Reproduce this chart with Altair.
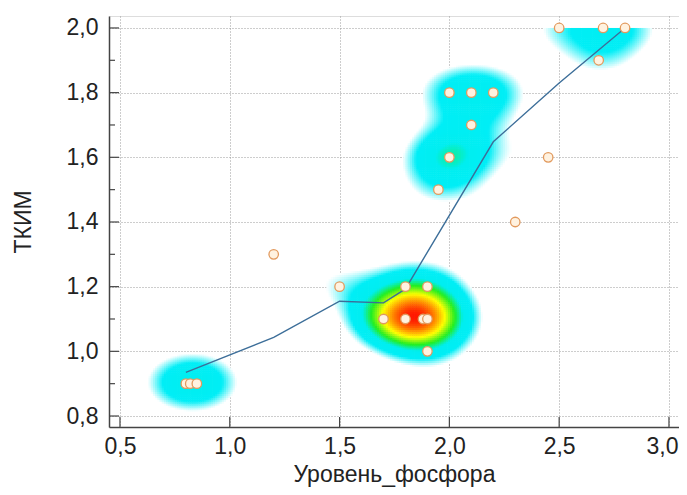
import numpy as np
import pandas as pd
import altair as alt

# scatter points (x = Уровень_фосфора, y = ТКИМ, n = how many observations coincide)
pt_x = [0.80, 0.82, 0.85, 1.20, 1.50, 1.70, 1.80, 1.88, 1.90, 1.80, 1.90, 1.90,
        1.95, 2.00, 2.10, 2.00, 2.10, 2.20, 2.30, 2.45, 2.50, 2.70, 2.80, 2.68]
pt_y = [0.90, 0.90, 0.90, 1.30, 1.20, 1.10, 1.10, 1.10, 1.10, 1.20, 1.20, 1.00,
        1.50, 1.60, 1.70, 1.80, 1.80, 1.80, 1.40, 1.60, 2.00, 2.00, 2.00, 1.90]
pt_n = [1, 1, 1, 1, 1, 1, 4, 3, 1, 1, 1, 1,
        1, 3, 1, 1, 1, 1, 1, 1, 1, 1, 1, 1]

# smoothed trend line vertices
line_x = [0.80, 1.20, 1.50, 1.70, 1.80, 2.20, 2.50, 2.80]
line_y = [0.935, 1.043, 1.155, 1.150, 1.193, 1.648, 1.830, 2.000]

x_ticks = [0.5, 1.0, 1.5, 2.0, 2.5, 3.0]
y_ticks = [0.8, 1.0, 1.2, 1.4, 1.6, 1.8, 2.0]
y_minor = [0.9, 1.1, 1.3, 1.5, 1.7, 1.9]

X_DOMAIN = [0.45, 3.0457]
Y_DOMAIN = [0.766, 2.037]
W, H = 570, 411

# 2D kernel density of the points (drawn as a heat map)
sx, sy = 0.14, 0.062
step_x, step_y = 0.01, 0.006
gx = np.arange(X_DOMAIN[0], X_DOMAIN[1], step_x)
gy = np.arange(Y_DOMAIN[0], max(pt_y), step_y)
GX, GY = np.meshgrid(gx, gy)
D = np.zeros_like(GX)
for x, y, n in zip(pt_x, pt_y, pt_n):
    D += n * np.exp(-0.5 * ((GX - x) / sx) ** 2 - 0.5 * ((GY - y) / sy) ** 2)
mask = D > 1.08
heat = pd.DataFrame({
    "x": GX[mask],
    "x2": GX[mask] + step_x * 1.3,
    "y": GY[mask],
    "y2": np.minimum(GY[mask] + step_y * 1.3, max(pt_y)),
    "d": D[mask],
})
heat = heat.sort_values("d")

points = pd.DataFrame({"x": pt_x, "y": pt_y})
trend = pd.DataFrame({"x": line_x, "y": line_y})

FONT = "Liberation Sans"
FS = 23
fmt = "replace(format(datum.value, '.1f'), '.', ',')"

xs = alt.Scale(domain=X_DOMAIN, nice=False, zero=False)
ys = alt.Scale(domain=Y_DOMAIN, nice=False, zero=False)

x_axis = alt.Axis(values=x_ticks, labelExpr=fmt, grid=True, gridDash=[1, 2],
                  gridColor="#9a9a9a", gridWidth=1, ticks=False, tickSize=0,
                  domainColor="#444444", domainWidth=1.5, labelFont=FONT,
                  labelFontSize=FS, labelColor="#222222", labelPadding=8,
                  labelAlign=alt.condition("datum.value >= 3", alt.value("right"), alt.value("center")),
                  labelOffset=alt.condition("datum.value >= 3", alt.value(9), alt.value(0)),
                  title="Уровень_фосфора", titleFont=FONT, titleFontSize=FS,
                  titleFontWeight="normal", titleColor="#222222", titlePadding=5)
y_axis = alt.Axis(values=y_ticks, labelExpr=fmt, grid=True, gridDash=[1, 2],
                  gridColor="#9a9a9a", gridWidth=1, ticks=False, tickSize=0,
                  domainColor="#444444", domainWidth=1.5, labelFont=FONT,
                  labelFontSize=FS, labelColor="#222222", labelPadding=11,
                  title="ТКИМ", titleFont=FONT, titleFontSize=FS,
                  titleFontWeight="normal", titleColor="#222222", titlePadding=31)

heat_layer = alt.Chart(heat).mark_rect(strokeWidth=0).encode(
    x=alt.X("x:Q", scale=xs, axis=x_axis),
    x2="x2:Q",
    y=alt.Y("y:Q", scale=ys, axis=y_axis),
    y2="y2:Q",
    color=alt.Color("d:Q", legend=None, scale=alt.Scale(
        domain=[1.08, 1.9, 3.1, 4.3, 6.0, 7.3, 9.0],
        range=["#ffffff", "#00eef6", "#00eef0", "#22ee22", "#ffff00", "#ff9900", "#ff1a00"],
        interpolate="rgb")),
)

line_layer = alt.Chart(trend).mark_line(color="#3c6e99", strokeWidth=1.4).encode(
    x=alt.X("x:Q", scale=xs), y=alt.Y("y:Q", scale=ys))

point_layer = alt.Chart(points).mark_circle(
    size=90, color="#fff2e0", stroke="#e29a5e", strokeWidth=1.3, opacity=1
).encode(x=alt.X("x:Q", scale=xs), y=alt.Y("y:Q", scale=ys))

xt = pd.DataFrame({"v": x_ticks})
yt = pd.DataFrame({"v": y_ticks})
ym = pd.DataFrame({"v": y_minor})
x_tick_layer = alt.Chart(xt).mark_rule(color="#444444", strokeWidth=1.2).encode(
    x=alt.X("v:Q", scale=xs), y=alt.value(H), y2=alt.value(H - 10))
y_tick_layer = alt.Chart(yt).mark_rule(color="#444444", strokeWidth=1.2).encode(
    y=alt.Y("v:Q", scale=ys), x=alt.value(0), x2=alt.value(10))
y_minor_layer = alt.Chart(ym).mark_rule(color="#444444", strokeWidth=1.2).encode(
    y=alt.Y("v:Q", scale=ys), x=alt.value(0), x2=alt.value(6))

chart = alt.layer(
    heat_layer, line_layer, point_layer, x_tick_layer, y_tick_layer, y_minor_layer
).properties(
    width=W, height=H,
    autosize=alt.AutoSizeParams(type="none"),
    padding={"left": 101, "top": 8, "right": 0, "bottom": 60},
).configure_view(stroke=None).configure(background="white")

chart.save("out.html", embed_options={"renderer": "svg", "actions": False})
